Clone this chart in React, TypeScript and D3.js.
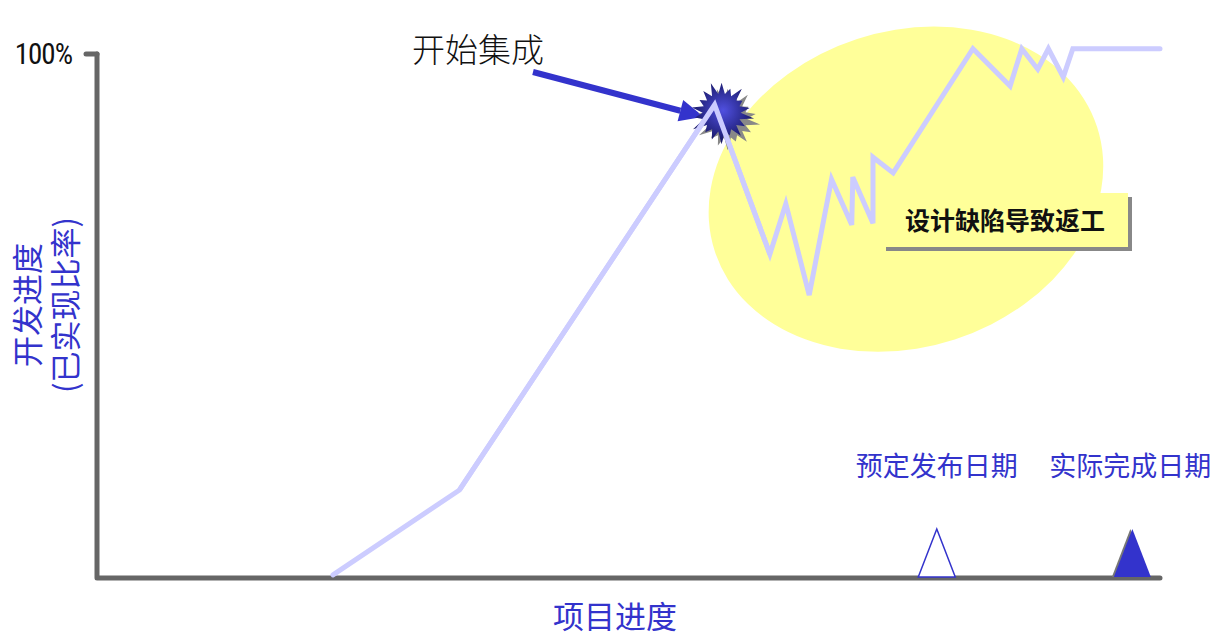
import React from 'react'
import * as d3 from 'd3'

// development progress curve (x: project progress %, y: completion %)
const progress = [22.2, 34.1, 58.1, 63.3, 64.8, 67.0, 69.1, 71.0, 71.1, 73.0, 73.0, 74.9, 82.4, 85.9, 87.0, 88.5, 89.5, 90.9, 91.8, 100]
const completion = [0.6, 16.8, 90.3, 61.8, 71.4, 54.0, 76.1, 67.4, 76.5, 67.7, 80.3, 77.3, 101, 93.9, 101, 97.1, 101, 95.6, 101, 101]
const yTickLabels = ['100%']
const integrationIndex = 2
const milestoneLabels = ['预定发布日期', '实际完成日期']
const milestoneAt = [79.0, 97.4]
const milestoneFilled = [false, true]
const spikes = [1, 0.85, 1.05, 0.8, 0.95, 1.1, 0.9, 1, 0.8, 1.05, 0.95, 0.85, 1.1, 0.9, 1, 0.85, 0.95, 1.05]

const width = 1214
const height = 639
const margin = { left: 97, right: 54, top: 54, bottom: 61 }

function App() {
    const x = d3.scaleLinear().domain([0, 100]).range([margin.left, width - margin.right])
    const y = d3.scaleLinear().domain([0, 100]).range([height - margin.bottom, margin.top])

    const pts = progress.map((p, i) => [x(p), y(completion[i])] as [number, number])
    const line = d3.line()(pts)

    // starburst at integration point
    const [sx, sy] = [pts[integrationIndex][0] + 7, pts[integrationIndex][1] + 8]
    const starPts: [number, number][] = []
    spikes.forEach((s, i) => {
        const a0 = (i / spikes.length) * Math.PI * 2
        const a1 = ((i + 0.5) / spikes.length) * Math.PI * 2
        starPts.push([a0, 30 * s])
        starPts.push([a1, 19])
    })
    const star = d3.lineRadial().curve(d3.curveLinearClosed)(starPts)

    // arrow to integration point
    const ax0 = 533, ay0 = 72
    const ax1 = sx - 18, ay1 = sy + 4
    const ang = Math.atan2(ay1 - ay0, ax1 - ax0)
    const headLen = 24, headW = 11
    const bx = ax1 - headLen * Math.cos(ang), by = ay1 - headLen * Math.sin(ang)
    const head = [
        [ax1, ay1],
        [bx + headW * Math.sin(ang), by - headW * Math.cos(ang)],
        [bx - headW * Math.sin(ang), by + headW * Math.cos(ang)],
    ]

    const x0 = x(0), xEnd = x(100), yBase = y(0), yTop = y(100)
    const triH = 49, triW = 37
    const blue = '#3333cc'
    const cjk = '"Noto Sans CJK SC", "Noto Sans", sans-serif'

    return (
        <svg width={width} height={height} style={{ position: 'absolute', left: 0, top: 0 }} fontFamily={cjk}>
            <defs>
                <radialGradient id="burst" cx="50%" cy="45%" r="55%">
                    <stop offset="0%" stopColor="#5050e0" />
                    <stop offset="100%" stopColor="#14145e" />
                </radialGradient>
            </defs>

            {/* highlight ellipse */}
            <ellipse cx={x(76.1)} cy={y(74.2)} rx={201} ry={158} fill="#ffff99"
                transform={`rotate(-18,${x(76.1)},${y(74.2)})`} />

            {/* axes */}
            <g stroke="#666" strokeWidth={5} strokeLinecap="round" fill="none">
                <path d={`M${x0},${yTop}V${yBase}H${xEnd}`} strokeLinejoin="round" />
                <line x1={x0 - 11} x2={x0} y1={yTop} y2={yTop} />
            </g>
            {yTickLabels.map(t => (
                <text key={t} x={x0 - 25} y={yTop} dy="0.36em" textAnchor="end" fontSize={29}
                    fontFamily='"Liberation Sans Narrow", "Roboto Condensed", sans-serif' letterSpacing={-1}
                    fill="#111">{t}</text>
            ))}

            {/* progress line */}
            <path d={line} fill="none" stroke="#ccccff" strokeWidth={5} strokeLinejoin="miter" strokeLinecap="round" />

            {/* callout */}
            <rect x={886} y={197} width={246} height={54} fill="#888" />
            <rect x={882} y={193} width={246} height={54} fill="#ffff99" />
            <text x={1005} y={221} dy="0.36em" textAnchor="middle" fontSize={25} fontWeight={700} fill="#111">设计缺陷导致返工</text>

            {/* arrow + label */}
            <line x1={ax0} y1={ay0} x2={bx} y2={by} stroke={blue} strokeWidth={6} />
            <polygon points={head.map(d => d.join(',')).join(' ')} fill={blue} />
            <text x={478} y={50} dy="0.36em" textAnchor="middle" fontSize={33} fontWeight={300} fill="#111">开始集成</text>

            {/* starburst */}
            <path d={star} transform={`translate(${sx + 6},${sy + 6})`} fill="#888" />
            <path d={star} transform={`translate(${sx},${sy})`} fill="url(#burst)" />
            <polyline points={pts.slice(1, 4).map(d => d.join(',')).join(' ')} fill="none" stroke="#ccccff" strokeWidth={5} />

            {/* milestones */}
            {milestoneAt.map((m, i) => {
                const cx = x(m)
                const tri = `${cx},${yBase - triH} ${cx + triW / 2},${yBase - 1} ${cx - triW / 2},${yBase - 1}`
                return (
                    <g key={i}>
                        {milestoneFilled[i]
                            ? <>
                                <polygon points={tri} transform="translate(-2,0)" fill="#777" />
                                <polygon points={tri} fill={blue} />
                            </>
                            : <polygon points={tri} fill="#fff" stroke={blue} strokeWidth={1.5} />}
                        <text x={cx - 2 * i} y={466} dy="0.36em" textAnchor="middle" fontSize={27} fill={blue}>{milestoneLabels[i]}</text>
                    </g>
                )
            })}

            {/* axis titles */}
            <text x={615} y={617} dy="0.36em" textAnchor="middle" fontSize={31} fill={blue}>项目进度</text>
            <g transform={`translate(0,${(yTop + yBase) / 2 - 11}) rotate(-90)`} fill={blue} fontSize={31} textAnchor="middle">
                <text x={0} y={28} dy="0.36em">开发进度</text>
                <text x={0} y={66} dy="0.36em">(已实现比率)</text>
            </g>
        </svg>
    )
}

export default App
